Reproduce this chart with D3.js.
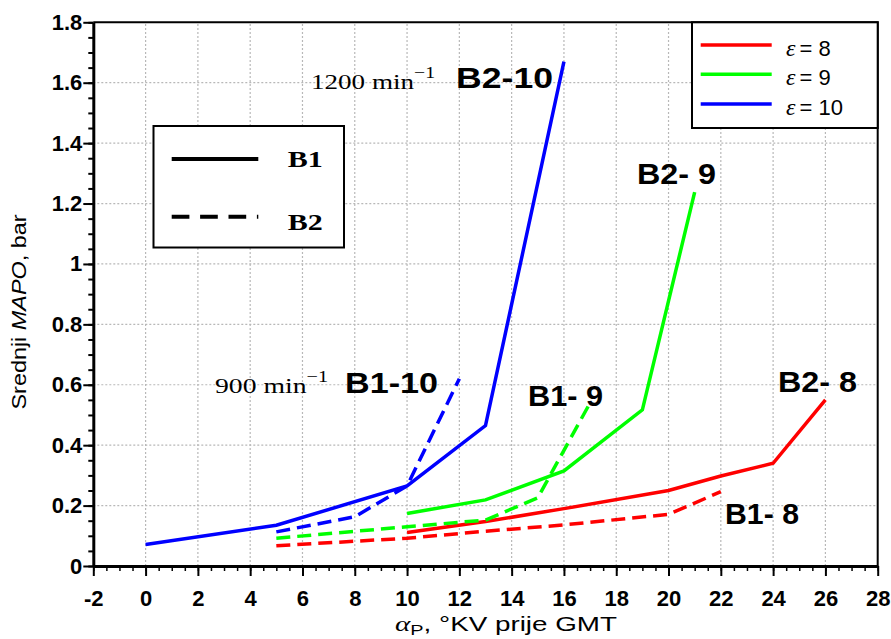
<!DOCTYPE html>
<html>
<head>
<meta charset="utf-8">
<script src="https://cdn.jsdelivr.net/npm/d3@7"></script>
<style>
  body { margin: 0; background: #fff; }
  svg { display: block; }
</style>
</head>
<body>
<div id="chart"></div>
<script>
// axis ticks
const xTicks = [-2, 0, 2, 4, 6, 8, 10, 12, 14, 16, 18, 20, 22, 24, 26, 28];
const yTicks = [0, 0.2, 0.4, 0.6, 0.8, 1, 1.2, 1.4, 1.6, 1.8];

// eps = 8
const eps8SolidX = [10, 13, 16, 20, 22, 24, 26];
const eps8SolidY = [0.111, 0.147, 0.19, 0.25, 0.298, 0.34, 0.55];
const eps8DashX = [5, 10, 13, 16, 20, 22];
const eps8DashY = [0.067, 0.092, 0.115, 0.136, 0.171, 0.246];

// eps = 9
const eps9SolidX = [10, 13, 16, 19, 21];
const eps9SolidY = [0.174, 0.219, 0.315, 0.517, 1.238];
const eps9DashX = [5, 10, 13, 15, 17];
const eps9DashY = [0.092, 0.13, 0.152, 0.226, 0.54];

// eps = 10
const eps10SolidX = [0, 5, 10, 13, 16];
const eps10SolidY = [0.071, 0.135, 0.265, 0.465, 1.67];
const eps10DashX = [5, 8, 10, 12];
const eps10DashY = [0.113, 0.163, 0.265, 0.62];

const epsLabels = ['8', '9', '10'];
const epsColors = ['#ff0000', '#00ff00', '#0000ff'];

document.addEventListener('DOMContentLoaded', function () {
  const width = 891, height = 639;
  const sans = '"Liberation Sans", Arial, sans-serif';
  const serif = '"Liberation Serif", "Times New Roman", serif';

  const svg = d3.select('#chart')
    .append('svg')
    .attr('width', width)
    .attr('height', height)
    .style('background', '#fff');

  const x = d3.scaleLinear().domain([-2, 28]).range([93.3, 877.7]);
  const y = d3.scaleLinear().domain([0, 1.8]).range([566, 22.3]);

  // dotted grid
  const grid = svg.append('g');
  grid.selectAll('line.vx')
    .data(xTicks.filter(d => d > -2 && d < 28))
    .join('line')
    .attr('x1', d => x(d)).attr('x2', d => x(d))
    .attr('y1', y(0)).attr('y2', y(1.8))
    .attr('stroke', '#b8b8b8')
    .attr('stroke-width', 1.2)
    .attr('stroke-dasharray', '2,2');
  grid.selectAll('line.hy')
    .data(yTicks.filter(d => d > 0 && d < 1.8))
    .join('line')
    .attr('x1', x(-2)).attr('x2', x(28))
    .attr('y1', d => y(d)).attr('y2', d => y(d))
    .attr('stroke', '#b8b8b8')
    .attr('stroke-width', 1.2)
    .attr('stroke-dasharray', '2,2');

  // series
  const series = [
    { xs: eps8SolidX, ys: eps8SolidY, color: epsColors[0], dash: null },
    { xs: eps8DashX, ys: eps8DashY, color: epsColors[0], dash: '14,7' },
    { xs: eps9SolidX, ys: eps9SolidY, color: epsColors[1], dash: null },
    { xs: eps9DashX, ys: eps9DashY, color: epsColors[1], dash: '14,7' },
    { xs: eps10SolidX, ys: eps10SolidY, color: epsColors[2], dash: null },
    { xs: eps10DashX, ys: eps10DashY, color: epsColors[2], dash: '14,7' },
  ];

  const line = d3.line().x(d => x(d[0])).y(d => y(d[1]));

  svg.append('g').selectAll('path')
    .data(series)
    .join('path')
    .attr('d', s => line(s.xs.map((v, i) => [v, s.ys[i]])))
    .attr('fill', 'none')
    .attr('stroke', s => s.color)
    .attr('stroke-width', 3.5)
    .attr('stroke-dasharray', s => s.dash);

  // axes
  const fmt = d => String(+d.toFixed(1));

  svg.append('g')
    .attr('transform', `translate(0,${y(0)})`)
    .call(d3.axisBottom(x).tickValues(d3.range(-2, 28.01, 0.5)).tickSize(5).tickSizeOuter(0).tickFormat(''))
    .call(g => g.select('.domain').remove())
    .call(g => g.selectAll('line').attr('stroke-width', 1.5));

  svg.append('g')
    .attr('transform', `translate(${x(-2)},0)`)
    .call(d3.axisLeft(y).tickValues(d3.range(0, 1.801, 0.05)).tickSize(5).tickSizeOuter(0).tickFormat(''))
    .call(g => g.select('.domain').remove())
    .call(g => g.selectAll('line').attr('stroke-width', 2));

  svg.append('g')
    .attr('transform', `translate(0,${y(0)})`)
    .call(d3.axisBottom(x).tickValues(xTicks).tickSize(10).tickSizeOuter(0).tickPadding(14).tickFormat(fmt))
    .call(g => g.select('.domain').attr('stroke-width', 3))
    .call(g => g.selectAll('line').attr('stroke-width', 2))
    .call(g => g.selectAll('text')
      .attr('font-family', sans)
      .attr('font-size', 22)
      .attr('font-weight', 'bold')
      .attr('fill', '#000'));

  svg.append('g')
    .attr('transform', `translate(${x(-2)},0)`)
    .call(d3.axisLeft(y).tickValues(yTicks).tickSize(10).tickSizeOuter(0).tickPadding(1).tickFormat(fmt))
    .call(g => g.select('.domain').attr('stroke-width', 3))
    .call(g => g.selectAll('line').attr('stroke-width', 2))
    .call(g => g.selectAll('text')
      .attr('font-family', sans)
      .attr('font-size', 22)
      .attr('font-weight', 'bold')
      .attr('fill', '#000'));

  // top and right frame
  svg.append('path')
    .attr('d', `M${x(-2)},${y(1.8)}H${x(28)}V${y(0)}`)
    .attr('fill', 'none')
    .attr('stroke', '#000')
    .attr('stroke-width', 2);

  // axis titles
  const yt = svg.append('text')
    .attr('transform', `translate(26,${312}) rotate(-90)`)
    .attr('text-anchor', 'middle')
    .attr('font-family', sans)
    .attr('font-size', 21)
    .attr('textLength', 195)
    .attr('lengthAdjust', 'spacingAndGlyphs');
  yt.append('tspan').text('Srednji ');
  yt.append('tspan').attr('font-style', 'italic').text('MAPO');
  yt.append('tspan').text(', bar');

  const xt = svg.append('text')
    .attr('x', 395)
    .attr('y', 631)
    .attr('font-family', sans)
    .attr('font-size', 21)
    .attr('textLength', 222)
    .attr('lengthAdjust', 'spacingAndGlyphs');
  xt.append('tspan').attr('font-family', serif).attr('font-style', 'italic').attr('font-size', 22).text('α');
  xt.append('tspan').attr('font-size', 15).attr('dy', 4).text('P');
  xt.append('tspan').attr('dy', -4).text(', °KV prije GMT');

  // annotations
  const labels = [
    { t: 'B2-10', x: 456, y: 88, w: 97 },
    { t: 'B1-10', x: 345, y: 393, w: 93 },
    { t: 'B1- 9', x: 528, y: 406, w: 75 },
    { t: 'B2- 9', x: 637, y: 184, w: 79 },
    { t: 'B2- 8', x: 778, y: 392, w: 79 },
    { t: 'B1- 8', x: 725, y: 524, w: 74 },
  ];
  svg.append('g').selectAll('text')
    .data(labels)
    .join('text')
    .attr('x', d => d.x)
    .attr('y', d => d.y)
    .attr('font-family', sans)
    .attr('font-weight', 'bold')
    .attr('font-size', 29)
    .attr('textLength', d => d.w)
    .attr('lengthAdjust', 'spacingAndGlyphs')
    .style('white-space', 'pre')
    .text(d => d.t);

  const speeds = [
    { t: '1200 min', x: 311, y: 89, w: 124 },
    { t: '900 min', x: 215, y: 393, w: 113 },
  ];
  speeds.forEach(s => {
    const tx = svg.append('text')
      .attr('x', s.x)
      .attr('y', s.y)
      .attr('font-family', serif)
      .attr('font-size', 22)
      .attr('textLength', s.w)
      .attr('lengthAdjust', 'spacingAndGlyphs');
    tx.append('tspan').text(s.t);
    tx.append('tspan').attr('dy', -11).attr('font-size', 16).text('−1');
  });

  // legend: line style
  const lg1 = svg.append('g');
  lg1.append('rect')
    .attr('x', 153.5).attr('y', 126)
    .attr('width', 190.5).attr('height', 121.5)
    .attr('fill', '#fff')
    .attr('stroke', '#000')
    .attr('stroke-width', 2);
  [['B1', null, 159, 166.7], ['B2', '17.7,10.7', 216.7, 230]].forEach(([t, dash, ly, ty]) => {
    lg1.append('line')
      .attr('x1', 171.7).attr('x2', 258.3)
      .attr('y1', ly).attr('y2', ly)
      .attr('stroke', '#000')
      .attr('stroke-width', 4)
      .attr('stroke-dasharray', dash);
    lg1.append('text')
      .attr('x', 287.7).attr('y', ty)
      .attr('font-family', serif)
      .attr('font-weight', 'bold')
      .attr('font-size', 23)
      .attr('textLength', 35)
      .attr('lengthAdjust', 'spacingAndGlyphs')
      .text(t);
  });

  // legend: compression ratio
  const lg2 = svg.append('g');
  lg2.append('rect')
    .attr('x', 692).attr('y', y(1.8))
    .attr('width', x(28) - 692).attr('height', 128 - y(1.8))
    .attr('fill', '#fff')
    .attr('stroke', '#000')
    .attr('stroke-width', 2);
  const rowY = [45, 74.3, 104];
  epsLabels.forEach((lab, i) => {
    lg2.append('line')
      .attr('x1', 700.7).attr('x2', 771.7)
      .attr('y1', rowY[i]).attr('y2', rowY[i])
      .attr('stroke', epsColors[i])
      .attr('stroke-width', 3.5);
    const t = lg2.append('text')
      .attr('x', 786).attr('y', rowY[i] + 10.5)
      .attr('font-family', sans)
      .attr('font-size', 22);
    t.append('tspan').attr('font-family', serif).attr('font-style', 'italic').attr('font-size', 24).text('ε');
    t.append('tspan').attr('dx', 4).text('= ' + lab);
  });
});
</script>
</body>
</html>
